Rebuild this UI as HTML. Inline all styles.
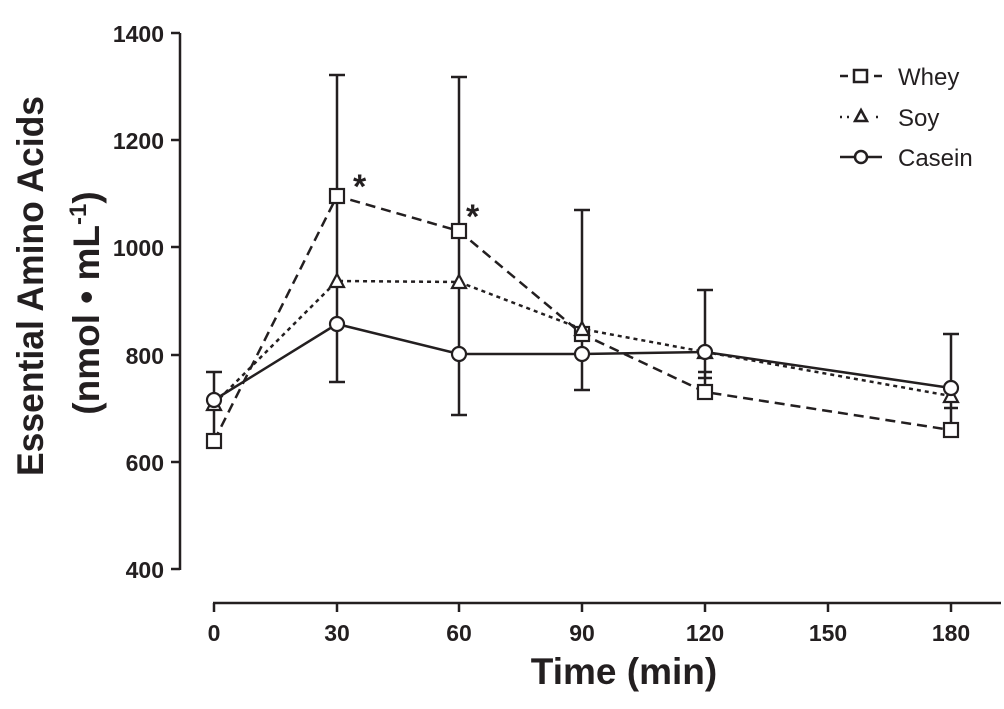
<!DOCTYPE html>
<html><head><style>
html,body{margin:0;padding:0;background:#fff;}
svg{display:block;font-family:"Liberation Sans",Arial,sans-serif;}
</style></head><body>
<svg width="1004" height="709" viewBox="0 0 1004 709" xmlns="http://www.w3.org/2000/svg">
<g stroke="#231f20" stroke-width="2.5" fill="none">
<line x1="180" y1="33" x2="180" y2="570"/>
<line x1="171" y1="33" x2="180" y2="33"/>
<line x1="171" y1="140" x2="180" y2="140"/>
<line x1="171" y1="247" x2="180" y2="247"/>
<line x1="171" y1="355" x2="180" y2="355"/>
<line x1="171" y1="462" x2="180" y2="462"/>
<line x1="171" y1="569" x2="180" y2="569"/>
<line x1="213" y1="603" x2="1001" y2="603"/>
<line x1="214" y1="603" x2="214" y2="612"/>
<line x1="337" y1="603" x2="337" y2="612"/>
<line x1="459" y1="603" x2="459" y2="612"/>
<line x1="582" y1="603" x2="582" y2="612"/>
<line x1="705" y1="603" x2="705" y2="612"/>
<line x1="828" y1="603" x2="828" y2="612"/>
<line x1="951" y1="603" x2="951" y2="612"/>
<line x1="214" y1="372" x2="214" y2="441"/><line x1="206" y1="372" x2="222" y2="372"/>
<line x1="337" y1="75" x2="337" y2="382"/><line x1="329" y1="75" x2="345" y2="75"/><line x1="329" y1="382" x2="345" y2="382"/>
<line x1="459" y1="77" x2="459" y2="415"/><line x1="451" y1="77" x2="467" y2="77"/><line x1="451" y1="415" x2="467" y2="415"/>
<line x1="582" y1="210" x2="582" y2="390"/><line x1="574" y1="210" x2="590" y2="210"/><line x1="574" y1="390" x2="590" y2="390"/>
<line x1="705" y1="290" x2="705" y2="392"/><line x1="697" y1="290" x2="713" y2="290"/><line x1="698" y1="372" x2="712" y2="372"/><line x1="698" y1="378" x2="712" y2="378"/>
<line x1="951" y1="334" x2="951" y2="430"/><line x1="943" y1="334" x2="959" y2="334"/><line x1="944" y1="408" x2="958" y2="408"/>
<polyline points="214,441 337,196 459,231 582,334 705,392 951,430" stroke-dasharray="10,6"/>
<polyline points="214,404 337,281 459,282 582,329 705,352 951,396" stroke-dasharray="4,4"/>
<polyline points="214,400 337,324 459,354 582,354 705,352 951,388"/>
</g>
<g stroke="#231f20" stroke-width="2.2" fill="#fff">
<rect x="207" y="434" width="14" height="14"/><rect x="330" y="189" width="14" height="14"/><rect x="452" y="224" width="14" height="14"/><rect x="575" y="327" width="14" height="14"/><rect x="698" y="385" width="14" height="14"/><rect x="944" y="423" width="14" height="14"/>
<polygon points="214,397 221,410 207,410"/><polygon points="337,274 344,287 330,287"/><polygon points="459,275 466,288 452,288"/><polygon points="582,322 589,335 575,335"/><polygon points="705,345 712,358 698,358"/><polygon points="951,389 958,402 944,402"/>
<circle cx="214" cy="400" r="7"/><circle cx="337" cy="324" r="7"/><circle cx="459" cy="354" r="7"/><circle cx="582" cy="354" r="7"/><circle cx="705" cy="352" r="7"/><circle cx="951" cy="388" r="7"/>
</g>
<g stroke="#231f20" stroke-width="2.5" fill="#fff">
<line x1="840" y1="76" x2="848" y2="76"/><line x1="874" y1="76" x2="882" y2="76"/><rect x="854" y="70" width="13" height="12"/>
<line x1="840" y1="117" x2="842" y2="117"/><line x1="847" y1="117" x2="849" y2="117"/><line x1="876" y1="117" x2="878" y2="117"/><polygon points="861,110 867,121 855,121"/>
<line x1="840" y1="157" x2="882" y2="157"/><circle cx="861" cy="157" r="6"/>
</g>
<g fill="#231f20" font-size="24">
<text x="898" y="85">Whey</text>
<text x="898" y="126">Soy</text>
<text x="898" y="166">Casein</text>
</g>
<g fill="#231f20" font-size="23" font-weight="bold" text-anchor="end">
<text x="164" y="42">1400</text><text x="164" y="149">1200</text><text x="164" y="256">1000</text>
<text x="164" y="364">800</text><text x="164" y="471">600</text><text x="164" y="578">400</text>
</g>
<g fill="#231f20" font-size="23" font-weight="bold" text-anchor="middle">
<text x="214" y="641">0</text><text x="337" y="641">30</text><text x="459" y="641">60</text><text x="582" y="641">90</text>
<text x="705" y="641">120</text><text x="828" y="641">150</text><text x="951" y="641">180</text>
</g>
<text x="624" y="684" font-size="37" font-weight="bold" text-anchor="middle" fill="#231f20">Time (min)</text>
<g font-size="37" font-weight="bold" fill="#231f20" text-anchor="middle">
<text transform="translate(43,286) rotate(-90)" textLength="380" lengthAdjust="spacingAndGlyphs">Essential Amino  Acids</text>
<text transform="translate(99,303) rotate(-90)">(nmol • mL<tspan font-size="24" dy="-13">-1</tspan><tspan dy="13">)</tspan></text>
</g>
<g font-size="34" font-weight="bold" fill="#231f20">
<text x="353" y="198">*</text><text x="466" y="228">*</text>
</g>
</svg>
</body></html>
